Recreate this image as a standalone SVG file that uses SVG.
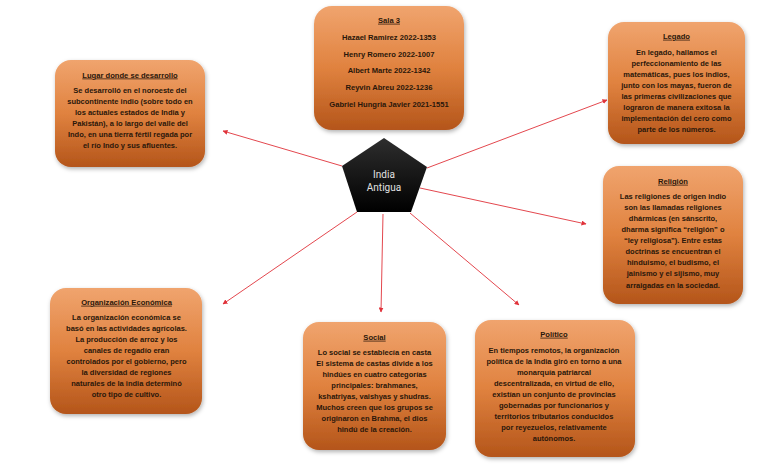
<svg xmlns="http://www.w3.org/2000/svg" width="768" height="466" viewBox="0 0 768 466">
<defs>
<linearGradient id="og" x1="0" y1="0" x2="0" y2="1">
<stop offset="0" stop-color="#f0a46e"/>
<stop offset="0.5" stop-color="#e0823f"/>
<stop offset="1" stop-color="#b4551a"/>
</linearGradient>
<linearGradient id="pg" x1="0" y1="0" x2="0" y2="1">
<stop offset="0" stop-color="#2e2e2e"/>
<stop offset="1" stop-color="#000"/>
</linearGradient>
<filter id="sh" x="-20%" y="-20%" width="140%" height="140%">
<feDropShadow dx="1" dy="2" stdDeviation="2.2" flood-color="#000" flood-opacity="0.3"/>
</filter>
<marker id="ah" viewBox="0 0 10 10" refX="9" refY="5" markerWidth="5" markerHeight="5" markerUnits="userSpaceOnUse" orient="auto">
<path d="M0,0 L10,5 L0,10 z" fill="#e0323a"/>
</marker>
<style>
.box{fill:url(#og);filter:url(#sh)}
.t{font-family:"Liberation Sans",Arial,sans-serif;font-weight:bold;fill:#2a170a;text-anchor:middle}
.ttl{font-size:7.6px;text-decoration:underline}
.nm{font-size:7.6px}
.b{font-size:7.5px}
.cn{stroke:#e0323a;stroke-width:0.9;fill:none;marker-end:url(#ah)}
</style>
</defs>
<rect width="768" height="466" fill="#fff"/>

<g id="connectors">
<line class="cn" x1="342" y1="166" x2="223" y2="131"/>
<line class="cn" x1="427" y1="168" x2="607" y2="100"/>
<line class="cn" x1="420" y1="188" x2="586" y2="224"/>
<line class="cn" x1="357" y1="212" x2="223" y2="304"/>
<line class="cn" x1="383" y1="214" x2="381" y2="312"/>
<line class="cn" x1="410" y1="213" x2="519" y2="305"/>
</g>

<g id="center">
<polygon points="384,138 427,167 411,212 357,212 342,166" fill="url(#pg)"/>
<text x="384" y="178" font-family="Roboto,'Liberation Sans',sans-serif" font-size="10" fill="#e2e2e2" text-anchor="middle">India</text>
<text x="384" y="191" font-family="Roboto,'Liberation Sans',sans-serif" font-size="10" fill="#e2e2e2" text-anchor="middle">Antigua</text>
</g>

<g id="sala3">
<rect class="box" x="314" y="6" width="150" height="124" rx="18"/>
<text class="t ttl" x="389" y="22.7">Sala 3</text>
<text class="t nm" x="389" y="39.7">Hazael Ramirez 2022-1353</text>
<text class="t nm" x="389" y="56.5">Henry Romero 2022-1007</text>
<text class="t nm" x="389" y="73.3">Albert Marte  2022-1342</text>
<text class="t nm" x="389" y="90.1">Reyvin Abreu 2022-1236</text>
<text class="t nm" x="389" y="106.9">Gabriel Hungria Javier 2021-1551</text>
</g>

<g id="lugar">
<rect class="box" x="55" y="60" width="150" height="107" rx="16"/>
<text class="t ttl" x="130" y="77.5">Lugar donde se desarrollo</text>
<text class="t b" x="130" y="92.7">Se desarrolló en el noroeste del</text>
<text class="t b" x="130" y="103.7">subcontinente indio (sobre todo en</text>
<text class="t b" x="130" y="114.7">los actuales estados de India y</text>
<text class="t b" x="130" y="125.7">Pakistán), a lo largo del valle del</text>
<text class="t b" x="130" y="136.7">Indo, en una tierra fértil regada por</text>
<text class="t b" x="130" y="147.7">el río Indo y sus afluentes.</text>
</g>

<g id="legado">
<rect class="box" x="608" y="22" width="137" height="122" rx="16"/>
<text class="t ttl" x="676.5" y="38.7">Legado</text>
<text class="t b" x="676.5" y="54.7">En legado, hallamos el</text>
<text class="t b" x="676.5" y="65.7">perfeccionamiento de las</text>
<text class="t b" x="676.5" y="76.7">matemáticas, pues los indios,</text>
<text class="t b" x="676.5" y="87.7">junto con los mayas, fueron de</text>
<text class="t b" x="676.5" y="98.7">las primeras civilizaciones que</text>
<text class="t b" x="676.5" y="109.7">lograron de manera exitosa la</text>
<text class="t b" x="676.5" y="120.7">implementación del cero como</text>
<text class="t b" x="676.5" y="131.7">parte de los números.</text>
</g>

<g id="religion">
<rect class="box" x="603" y="166" width="140" height="138" rx="16"/>
<text class="t ttl" x="673" y="183.7">Religión</text>
<text class="t b" x="673" y="198.7">Las religiones de origen indio</text>
<text class="t b" x="673" y="209.8">son las llamadas religiones</text>
<text class="t b" x="673" y="220.9">dhármicas (en sánscrito,</text>
<text class="t b" x="673" y="232">dharma significa “religión” o</text>
<text class="t b" x="673" y="243.1">“ley religiosa”). Entre estas</text>
<text class="t b" x="673" y="254.2">doctrinas se encuentran el</text>
<text class="t b" x="673" y="265.3">hinduismo, el budismo, el</text>
<text class="t b" x="673" y="276.4">jainismo y el sijismo, muy</text>
<text class="t b" x="673" y="287.5">arraigadas en la sociedad.</text>
</g>

<g id="economica">
<rect class="box" x="50" y="288" width="152" height="126" rx="16"/>
<text class="t ttl" x="126.5" y="304.7">Organización Económica</text>
<text class="t b" x="126.5" y="319.7">La organización económica se</text>
<text class="t b" x="126.5" y="330.7">basó en las actividades agrícolas.</text>
<text class="t b" x="126.5" y="341.7">La producción de arroz y los</text>
<text class="t b" x="126.5" y="352.7">canales de regadío eran</text>
<text class="t b" x="126.5" y="363.7">controlados por el gobierno, pero</text>
<text class="t b" x="126.5" y="374.7">la diversidad de regiones</text>
<text class="t b" x="126.5" y="385.7">naturales de la india determinó</text>
<text class="t b" x="126.5" y="396.7">otro tipo de cultivo.</text>
</g>

<g id="social">
<rect class="box" x="303" y="322" width="143" height="128" rx="16"/>
<text class="t ttl" x="374.5" y="339.7">Social</text>
<text class="t b" x="374.5" y="354.7">Lo social se establecía en casta</text>
<text class="t b" x="374.5" y="365.7">El sistema de castas divide a los</text>
<text class="t b" x="374.5" y="376.7">hindúes en cuatro categorías</text>
<text class="t b" x="374.5" y="387.7">principales: brahmanes,</text>
<text class="t b" x="374.5" y="398.7">kshatriyas, vaishyas y shudras.</text>
<text class="t b" x="374.5" y="409.7">Muchos creen que los grupos se</text>
<text class="t b" x="374.5" y="420.7">originaron en Brahma, el dios</text>
<text class="t b" x="374.5" y="431.7">hindú de la creación.</text>
</g>

<g id="politico">
<rect class="box" x="475" y="320" width="160" height="137" rx="16"/>
<text class="t ttl" x="554" y="336.7">Político</text>
<text class="t b" x="554" y="352.7">En tiempos remotos, la organización</text>
<text class="t b" x="554" y="363.7">política de la India giró en torno a una</text>
<text class="t b" x="554" y="374.7">monarquía patriarcal</text>
<text class="t b" x="554" y="385.7">descentralizada, en virtud de ello,</text>
<text class="t b" x="554" y="396.7">existían un conjunto de provincias</text>
<text class="t b" x="554" y="407.7">gobernadas por funcionarios y</text>
<text class="t b" x="554" y="418.7">territorios tributarios conducidos</text>
<text class="t b" x="554" y="429.7">por reyezuelos, relativamente</text>
<text class="t b" x="554" y="440.7">autónomos.</text>
</g>
</svg>
